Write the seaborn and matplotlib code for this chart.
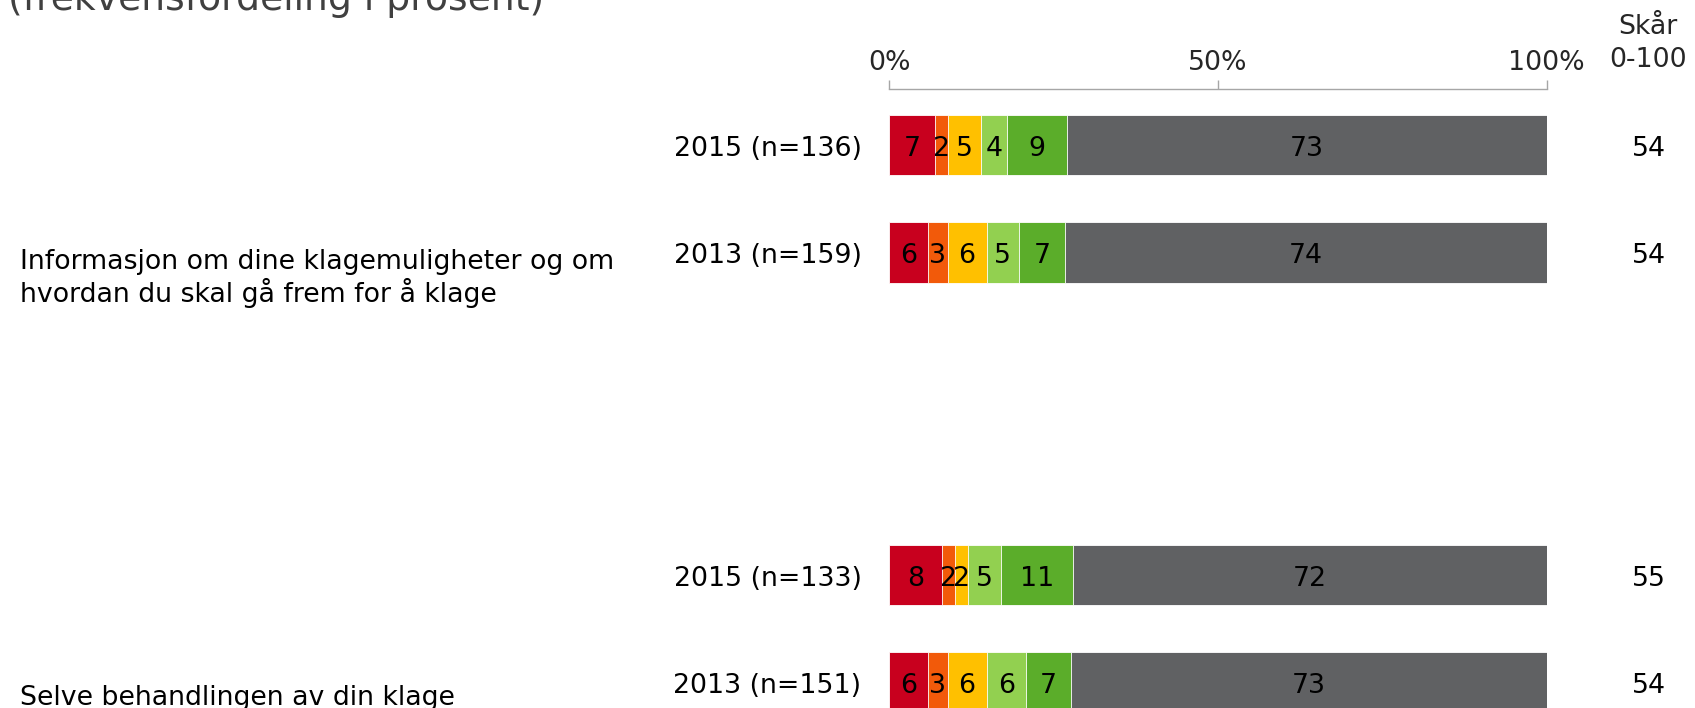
import numpy as np
import pandas as pd
import matplotlib
matplotlib.use("Agg")
import matplotlib.pyplot as plt
import seaborn as sns

# ---------------- data ----------------
subtitle = "(frekvensfordeling i prosent)"
group_labels = [
    ["Informasjon om dine klagemuligheter og om", "hvordan du skal gå frem for å klage"],
    ["Selve behandlingen av din klage"],
]
row_labels = ["2015 (n=136)", "2013 (n=159)", "2015 (n=133)", "2013 (n=151)"]
series_names = ["1", "2", "3", "4", "5", "Ikke aktuelt"]
s1 = [7, 6, 8, 6]
s2 = [2, 3, 2, 3]
s3 = [5, 6, 2, 6]
s4 = [4, 5, 5, 6]
s5 = [9, 7, 11, 7]
s6 = [73, 74, 72, 73]
scores = [54, 54, 55, 54]
score_header = "Skår\n0-100"
tick_values = [0, 50, 100]
tick_labels = ["0%", "50%", "100%"]

# ---------------- style / layout ----------------
colors = ["#C8001E", "#F25A0A", "#FFC000", "#92D050", "#5BAD2A", "#606163"]
row_pos = [0, 1, 4, 5]
W, H = 1695, 708
FS = 19.3
unit_px = 107.5          # pixels per row unit
y0_px = 145.0            # centre of first bar in pixels
axis_top_px = 88.6
x0_px, x1_px = 889.0, 1546.5

sns.set_theme(style="white")
plt.rcParams["font.family"] = ["DejaVu Sans"]

fig = plt.figure(figsize=(W / 100, H / 100), dpi=100)
ax = fig.add_axes([x0_px / W, 0, (x1_px - x0_px) / W, (H - axis_top_px) / H])

raw = np.array([s1, s2, s3, s4, s5, s6], dtype=float).T
share = raw / raw.sum(axis=1, keepdims=True) * 100
cum = share.cumsum(axis=1)

for k in reversed(range(len(series_names))):
    d = pd.DataFrame({"pos": row_pos, "end": cum[:, k], "row": row_labels})
    sns.barplot(data=d, x="end", y="pos", orient="y", native_scale=True,
                color=colors[k], saturation=1, width=0.565, errorbar=None,
                edgecolor="white", linewidth=0.6, ax=ax)

ax.set_xlim(0, 100)
ax.set_ylim((H - y0_px) / unit_px, (axis_top_px - y0_px) / unit_px)
ax.set_xlabel("")
ax.set_ylabel("")
ax.set_yticks([])
ax.xaxis.tick_top()
ax.set_xticks(tick_values)
ax.set_xticklabels(tick_labels)
ax.tick_params(axis="x", direction="out", length=6.2, width=1.0, color="#A6A6A6",
               labelsize=FS, labelcolor="#262626", pad=3.2, top=True, bottom=False)
for side in ["left", "right", "bottom"]:
    ax.spines[side].set_visible(False)
ax.spines["top"].set_color("#A6A6A6")
ax.spines["top"].set_linewidth(1.0)
ax.set_facecolor("white")

base_off = 10.5 / unit_px  # baseline offset so glyph caps are centred
px_per_pct = (x1_px - x0_px) / 100

for i, p in enumerate(row_pos):
    for k in range(len(series_names)):
        ax.text(cum[i, k] - share[i, k] / 2, p + base_off, f"{int(raw[i, k])}",
                ha="center", va="baseline", fontsize=FS, color="black")
    ax.text((861.6 - x0_px) / px_per_pct, p + base_off, row_labels[i],
            ha="right", va="baseline", fontsize=FS, color="black", clip_on=False)
    ax.text((1649 - x0_px) / px_per_pct, p + base_off, str(scores[i]),
            ha="center", va="baseline", fontsize=FS, color="black", clip_on=False)

# score header
hdr = score_header.split("\n")
fig.text(1648 / W, 1 - 34 / H, hdr[0], ha="center", va="baseline", fontsize=FS, color="#262626")
fig.text(1648 / W, 1 - 67 / H, hdr[1], ha="center", va="baseline", fontsize=FS, color="#262626")

# group labels
g_baselines = [[269, 302], [705]]
for lines, bls in zip(group_labels, g_baselines):
    for line, bl in zip(lines, bls):
        fig.text(19.5 / W, 1 - bl / H, line, ha="left", va="baseline", fontsize=FS, color="black")

# subtitle (partially cut at the top)
fig.text(8 / W, 1 - 10 / H, subtitle, ha="left", va="baseline", fontsize=27.2, color="#404040")

fig.savefig("out.png", dpi=100, facecolor="white")
